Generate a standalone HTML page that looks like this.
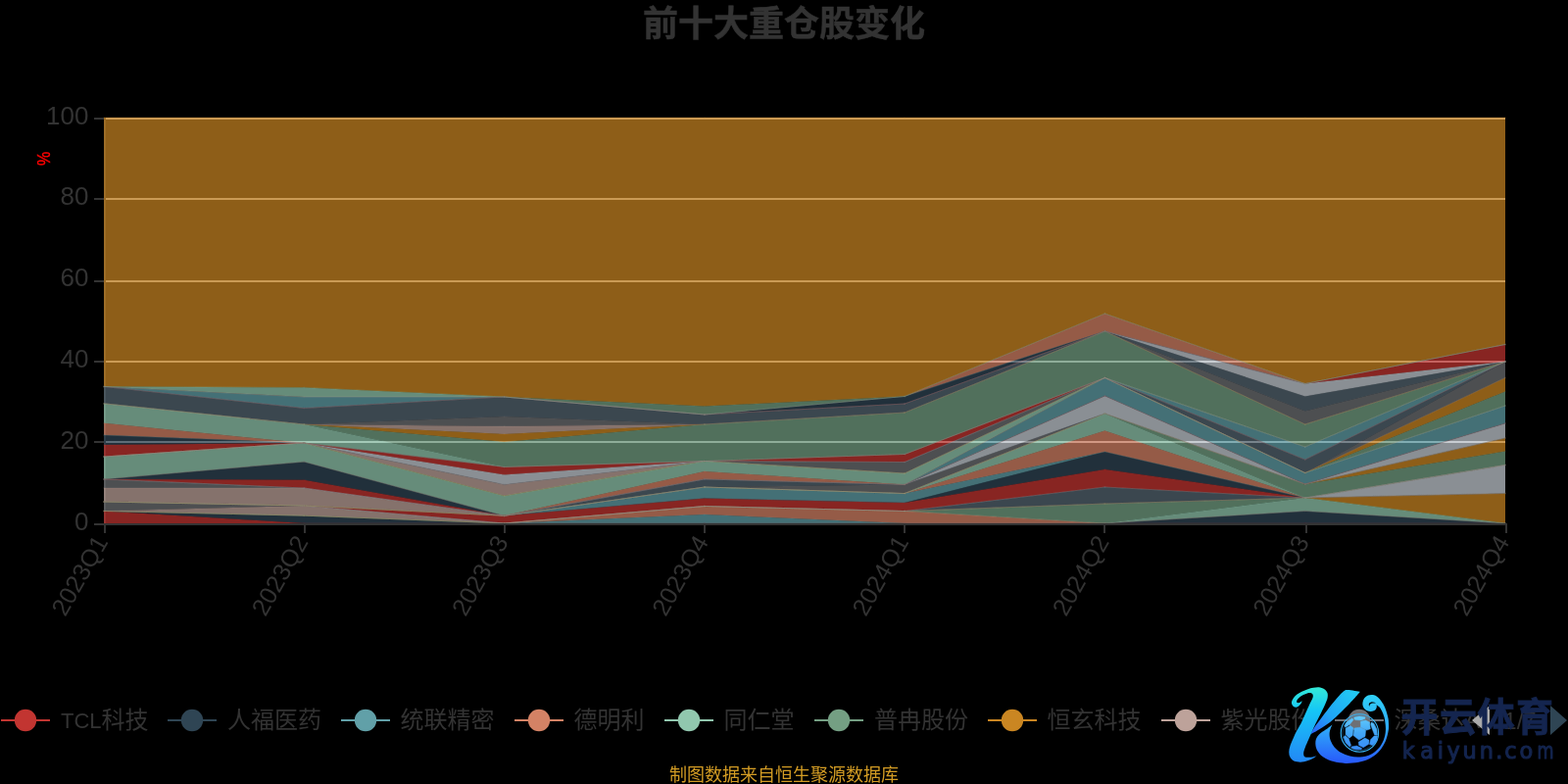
<!DOCTYPE html>
<html lang="zh-CN">
<head>
<meta charset="utf-8">
<title>前十大重仓股变化</title>
<style>
html,body{margin:0;padding:0;background:#000;}
body{width:1600px;height:800px;overflow:hidden;}
svg{display:block;}
</style>
</head>
<body>
<svg width="1600" height="800" viewBox="0 0 1600 800">
<rect width="1600" height="800" fill="#000"/>
<g fill="#ccc">
<rect x="106" y="450" width="1430" height="2"/>
<rect x="106" y="368" width="1430" height="2"/>
<rect x="106" y="286" width="1430" height="2"/>
<rect x="106" y="202" width="1430" height="2"/>
<rect x="106" y="120" width="1430" height="2"/>
</g>
<rect x="106" y="120" width="2" height="416" fill="#333"/>
<g id="areas" fill-opacity=".7">
<path d="M106 521.5L310.29 534L310.29 534L106 534Z" fill="#c23531"/>
<path d="M106 521.5L310.29 526.2L514.57 534L514.57 534L310.29 534L106 521.5Z" fill="#2f4554"/>
<path d="M1127.43 534L1331.71 521.5L1536 534L1536 534L1331.71 534L1127.43 534Z" fill="#2f4554"/>
<path d="M514.57 534L718.86 525L923.14 534L923.14 534L718.86 534L514.57 534Z" fill="#61a0a8"/>
<path d="M514.57 534L718.86 516.5L923.14 521.5L1127.43 534L1127.43 534L923.14 534L718.86 525L514.57 534Z" fill="#d48265"/>
<path d="M1127.43 534L1331.71 508L1536 534L1536 534L1331.71 521.5L1127.43 534Z" fill="#91c7ae"/>
<path d="M923.14 521.5L1127.43 514L1331.71 508L1331.71 508L1127.43 534L923.14 521.5Z" fill="#749f83"/>
<path d="M1331.71 508L1536 503.5L1536 534L1331.71 508Z" fill="#ca8622"/>
<path d="M106 521.5L310.29 516L514.57 534L514.57 534L310.29 526.2L106 521.5Z" fill="#bda29a"/>
<path d="M106 512L310.29 516L310.29 516L106 521.5Z" fill="#6e7074"/>
<path d="M923.14 521.5L1127.43 497L1331.71 508L1331.71 508L1127.43 514L923.14 521.5Z" fill="#546570"/>
<path d="M1331.71 508L1536 474.5L1536 503.5L1331.71 508Z" fill="#c4ccd3"/>
<path d="M310.29 516L514.57 526.3L718.86 508.5L923.14 513L1127.43 479L1331.71 508L1331.71 508L1127.43 497L923.14 521.5L718.86 516.5L514.57 534L310.29 516Z" fill="#c23531"/>
<path d="M923.14 513L1127.43 461L1331.71 508L1331.71 508L1127.43 479L923.14 513Z" fill="#2f4554"/>
<path d="M514.57 526.3L718.86 497L923.14 503.5L1127.43 461L1127.43 461L923.14 513L718.86 508.5L514.57 526.3Z" fill="#61a0a8"/>
<path d="M923.14 503.5L1127.43 439.5L1331.71 508L1331.71 508L1127.43 461L923.14 503.5Z" fill="#d48265"/>
<path d="M923.14 503.5L1127.43 422L1331.71 508L1331.71 508L1127.43 439.5L923.14 503.5Z" fill="#91c7ae"/>
<path d="M1127.43 422L1331.71 494L1536 460.5L1536 474.5L1331.71 508L1127.43 422Z" fill="#749f83"/>
<path d="M1331.71 494L1536 447L1536 460.5L1331.71 494Z" fill="#ca8622"/>
<path d="M106 498L310.29 498L514.57 526.3L514.57 526.3L310.29 516L106 512Z" fill="#bda29a"/>
<path d="M106 489L310.29 498L310.29 498L106 498Z" fill="#6e7074"/>
<path d="M718.86 497L923.14 494.5L1127.43 422L1127.43 422L923.14 503.5L718.86 497Z" fill="#6e7074"/>
<path d="M514.57 526.3L718.86 489L923.14 494.5L923.14 494.5L718.86 497L514.57 526.3Z" fill="#546570"/>
<path d="M923.14 494.5L1127.43 404L1331.71 494L1536 432L1536 447L1331.71 494L1127.43 422L923.14 494.5Z" fill="#c4ccd3"/>
<path d="M106 489L310.29 489.8L514.57 526.3L514.57 526.3L310.29 498L106 489Z" fill="#c23531"/>
<path d="M106 489L310.29 471.2L514.57 526.3L514.57 526.3L310.29 489.8L106 489Z" fill="#2f4554"/>
<path d="M923.14 494.5L1127.43 385.5L1331.71 482.5L1536 414L1536 432L1331.71 494L1127.43 404L923.14 494.5Z" fill="#61a0a8"/>
<path d="M514.57 526.3L718.86 481L923.14 494.5L923.14 494.5L718.86 489L514.57 526.3Z" fill="#d48265"/>
<path d="M106 466L310.29 452L514.57 506L718.86 470.5L923.14 483L1127.43 385.5L1127.43 385.5L923.14 494.5L718.86 481L514.57 526.3L310.29 471.2L106 489Z" fill="#91c7ae"/>
<path d="M1331.71 482.5L1536 399.5L1536 414L1331.71 482.5Z" fill="#749f83"/>
<path d="M1331.71 482.5L1536 385.5L1536 399.5L1331.71 482.5Z" fill="#ca8622"/>
<path d="M310.29 452L514.57 494.5L718.86 470.5L718.86 470.5L514.57 506L310.29 452Z" fill="#bda29a"/>
<path d="M718.86 470.5L923.14 471.5L1127.43 385.5L1127.43 385.5L923.14 483L718.86 470.5Z" fill="#6e7074"/>
<path d="M1331.71 482.5L1536 369L1536 385.5L1331.71 482.5Z" fill="#6e7074"/>
<path d="M1127.43 385.5L1331.71 469L1536 369L1536 369L1331.71 482.5L1127.43 385.5Z" fill="#546570"/>
<path d="M310.29 452L514.57 484.5L718.86 470.5L718.86 470.5L514.57 494.5L310.29 452Z" fill="#c4ccd3"/>
<path d="M106 454L310.29 452L514.57 476.5L718.86 470.5L923.14 463.5L1127.43 385.5L1127.43 385.5L923.14 471.5L718.86 470.5L514.57 484.5L310.29 452L106 466Z" fill="#c23531"/>
<path d="M106 444L310.29 452L310.29 452L106 454Z" fill="#2f4554"/>
<path d="M1127.43 385.5L1331.71 456L1536 369L1536 369L1331.71 469L1127.43 385.5Z" fill="#61a0a8"/>
<path d="M106 431.8L310.29 452L310.29 452L106 444Z" fill="#d48265"/>
<path d="M106 411.8L310.29 433L514.57 476.5L514.57 476.5L310.29 452L106 431.8Z" fill="#91c7ae"/>
<path d="M310.29 433L514.57 451L718.86 433L923.14 421L1127.43 338L1331.71 433L1536 369L1536 369L1331.71 456L1127.43 385.5L923.14 463.5L718.86 470.5L514.57 476.5L310.29 433Z" fill="#749f83"/>
<path d="M310.29 433L514.57 443L718.86 433L718.86 433L514.57 451L310.29 433Z" fill="#ca8622"/>
<path d="M310.29 433L514.57 435L718.86 433L718.86 433L514.57 443L310.29 433Z" fill="#bda29a"/>
<path d="M310.29 433L514.57 425L718.86 433L718.86 433L514.57 435L310.29 433Z" fill="#6e7074"/>
<path d="M1127.43 338L1331.71 419.5L1536 369L1536 369L1331.71 433L1127.43 338Z" fill="#6e7074"/>
<path d="M106 394.5L310.29 416.5L514.57 405L718.86 423L923.14 412L1127.43 338L1331.71 404.5L1536 369L1536 369L1331.71 419.5L1127.43 338L923.14 421L718.86 433L514.57 425L310.29 433L106 411.8Z" fill="#546570"/>
<path d="M1127.43 338L1331.71 391.5L1536 369L1536 369L1331.71 404.5L1127.43 338Z" fill="#c4ccd3"/>
<path d="M1331.71 391.5L1536 351.5L1536 369L1331.71 391.5Z" fill="#c23531"/>
<path d="M718.86 423L923.14 404.5L1127.43 338L1127.43 338L923.14 412L718.86 423Z" fill="#2f4554"/>
<path d="M106 394.5L310.29 405L514.57 405L514.57 405L310.29 416.5L106 394.5Z" fill="#61a0a8"/>
<path d="M923.14 404.5L1127.43 320L1331.71 391.5L1331.71 391.5L1127.43 338L923.14 404.5Z" fill="#d48265"/>
<path d="M106 394.5L310.29 395.5L514.57 405L514.57 405L310.29 405L106 394.5Z" fill="#91c7ae"/>
<path d="M514.57 405L718.86 414.5L923.14 404.5L923.14 404.5L718.86 423L514.57 405Z" fill="#749f83"/>
<path d="M106 120L310.29 120L514.57 120L718.86 120L923.14 120L1127.43 120L1331.71 120L1536 120L1536 351.5L1331.71 391.5L1127.43 320L923.14 404.5L718.86 414.5L514.57 405L310.29 395.5L106 394.5Z" fill="#ca8622"/>
</g>
<g id="lines" fill="none" stroke-width="1" stroke-opacity="0.2">
<path d="M106 521.5L310.29 534L514.57 534L718.86 534L923.14 534L1127.43 534L1331.71 534L1536 534" stroke="#c23531"/>
<path d="M106 521.5L310.29 526.2L514.57 534L718.86 534L923.14 534L1127.43 534L1331.71 521.5L1536 534" stroke="#2f4554"/>
<path d="M106 521.5L310.29 526.2L514.57 534L718.86 525L923.14 534L1127.43 534L1331.71 521.5L1536 534" stroke="#61a0a8"/>
<path d="M106 521.5L310.29 526.2L514.57 534L718.86 516.5L923.14 521.5L1127.43 534L1331.71 521.5L1536 534" stroke="#d48265"/>
<path d="M106 521.5L310.29 526.2L514.57 534L718.86 516.5L923.14 521.5L1127.43 534L1331.71 508L1536 534" stroke="#91c7ae"/>
<path d="M106 521.5L310.29 526.2L514.57 534L718.86 516.5L923.14 521.5L1127.43 514L1331.71 508L1536 534" stroke="#749f83"/>
<path d="M106 521.5L310.29 526.2L514.57 534L718.86 516.5L923.14 521.5L1127.43 514L1331.71 508L1536 503.5" stroke="#ca8622"/>
<path d="M106 521.5L310.29 516L514.57 534L718.86 516.5L923.14 521.5L1127.43 514L1331.71 508L1536 503.5" stroke="#bda29a"/>
<path d="M106 512L310.29 516L514.57 534L718.86 516.5L923.14 521.5L1127.43 514L1331.71 508L1536 503.5" stroke="#6e7074"/>
<path d="M106 512L310.29 516L514.57 534L718.86 516.5L923.14 521.5L1127.43 497L1331.71 508L1536 503.5" stroke="#546570"/>
<path d="M106 512L310.29 516L514.57 534L718.86 516.5L923.14 521.5L1127.43 497L1331.71 508L1536 474.5" stroke="#c4ccd3"/>
<path d="M106 512L310.29 516L514.57 526.3L718.86 508.5L923.14 513L1127.43 479L1331.71 508L1536 474.5" stroke="#c23531"/>
<path d="M106 512L310.29 516L514.57 526.3L718.86 508.5L923.14 513L1127.43 461L1331.71 508L1536 474.5" stroke="#2f4554"/>
<path d="M106 512L310.29 516L514.57 526.3L718.86 497L923.14 503.5L1127.43 461L1331.71 508L1536 474.5" stroke="#61a0a8"/>
<path d="M106 512L310.29 516L514.57 526.3L718.86 497L923.14 503.5L1127.43 439.5L1331.71 508L1536 474.5" stroke="#d48265"/>
<path d="M106 512L310.29 516L514.57 526.3L718.86 497L923.14 503.5L1127.43 422L1331.71 508L1536 474.5" stroke="#91c7ae"/>
<path d="M106 512L310.29 516L514.57 526.3L718.86 497L923.14 503.5L1127.43 422L1331.71 494L1536 460.5" stroke="#749f83"/>
<path d="M106 512L310.29 516L514.57 526.3L718.86 497L923.14 503.5L1127.43 422L1331.71 494L1536 447" stroke="#ca8622"/>
<path d="M106 498L310.29 498L514.57 526.3L718.86 497L923.14 503.5L1127.43 422L1331.71 494L1536 447" stroke="#bda29a"/>
<path d="M106 489L310.29 498L514.57 526.3L718.86 497L923.14 494.5L1127.43 422L1331.71 494L1536 447" stroke="#6e7074"/>
<path d="M106 489L310.29 498L514.57 526.3L718.86 489L923.14 494.5L1127.43 422L1331.71 494L1536 447" stroke="#546570"/>
<path d="M106 489L310.29 498L514.57 526.3L718.86 489L923.14 494.5L1127.43 404L1331.71 494L1536 432" stroke="#c4ccd3"/>
<path d="M106 489L310.29 489.8L514.57 526.3L718.86 489L923.14 494.5L1127.43 404L1331.71 494L1536 432" stroke="#c23531"/>
<path d="M106 489L310.29 471.2L514.57 526.3L718.86 489L923.14 494.5L1127.43 404L1331.71 494L1536 432" stroke="#2f4554"/>
<path d="M106 489L310.29 471.2L514.57 526.3L718.86 489L923.14 494.5L1127.43 385.5L1331.71 482.5L1536 414" stroke="#61a0a8"/>
<path d="M106 489L310.29 471.2L514.57 526.3L718.86 481L923.14 494.5L1127.43 385.5L1331.71 482.5L1536 414" stroke="#d48265"/>
<path d="M106 466L310.29 452L514.57 506L718.86 470.5L923.14 483L1127.43 385.5L1331.71 482.5L1536 414" stroke="#91c7ae"/>
<path d="M106 466L310.29 452L514.57 506L718.86 470.5L923.14 483L1127.43 385.5L1331.71 482.5L1536 399.5" stroke="#749f83"/>
<path d="M106 466L310.29 452L514.57 506L718.86 470.5L923.14 483L1127.43 385.5L1331.71 482.5L1536 385.5" stroke="#ca8622"/>
<path d="M106 466L310.29 452L514.57 494.5L718.86 470.5L923.14 483L1127.43 385.5L1331.71 482.5L1536 385.5" stroke="#bda29a"/>
<path d="M106 466L310.29 452L514.57 494.5L718.86 470.5L923.14 471.5L1127.43 385.5L1331.71 482.5L1536 369" stroke="#6e7074"/>
<path d="M106 466L310.29 452L514.57 494.5L718.86 470.5L923.14 471.5L1127.43 385.5L1331.71 469L1536 369" stroke="#546570"/>
<path d="M106 466L310.29 452L514.57 484.5L718.86 470.5L923.14 471.5L1127.43 385.5L1331.71 469L1536 369" stroke="#c4ccd3"/>
<path d="M106 454L310.29 452L514.57 476.5L718.86 470.5L923.14 463.5L1127.43 385.5L1331.71 469L1536 369" stroke="#c23531"/>
<path d="M106 444L310.29 452L514.57 476.5L718.86 470.5L923.14 463.5L1127.43 385.5L1331.71 469L1536 369" stroke="#2f4554"/>
<path d="M106 444L310.29 452L514.57 476.5L718.86 470.5L923.14 463.5L1127.43 385.5L1331.71 456L1536 369" stroke="#61a0a8"/>
<path d="M106 431.8L310.29 452L514.57 476.5L718.86 470.5L923.14 463.5L1127.43 385.5L1331.71 456L1536 369" stroke="#d48265"/>
<path d="M106 411.8L310.29 433L514.57 476.5L718.86 470.5L923.14 463.5L1127.43 385.5L1331.71 456L1536 369" stroke="#91c7ae"/>
<path d="M106 411.8L310.29 433L514.57 451L718.86 433L923.14 421L1127.43 338L1331.71 433L1536 369" stroke="#749f83"/>
<path d="M106 411.8L310.29 433L514.57 443L718.86 433L923.14 421L1127.43 338L1331.71 433L1536 369" stroke="#ca8622"/>
<path d="M106 411.8L310.29 433L514.57 435L718.86 433L923.14 421L1127.43 338L1331.71 433L1536 369" stroke="#bda29a"/>
<path d="M106 411.8L310.29 433L514.57 425L718.86 433L923.14 421L1127.43 338L1331.71 419.5L1536 369" stroke="#6e7074"/>
<path d="M106 394.5L310.29 416.5L514.57 405L718.86 423L923.14 412L1127.43 338L1331.71 404.5L1536 369" stroke="#546570"/>
<path d="M106 394.5L310.29 416.5L514.57 405L718.86 423L923.14 412L1127.43 338L1331.71 391.5L1536 369" stroke="#c4ccd3"/>
<path d="M106 394.5L310.29 416.5L514.57 405L718.86 423L923.14 412L1127.43 338L1331.71 391.5L1536 351.5" stroke="#c23531"/>
<path d="M106 394.5L310.29 416.5L514.57 405L718.86 423L923.14 404.5L1127.43 338L1331.71 391.5L1536 351.5" stroke="#2f4554"/>
<path d="M106 394.5L310.29 405L514.57 405L718.86 423L923.14 404.5L1127.43 338L1331.71 391.5L1536 351.5" stroke="#61a0a8"/>
<path d="M106 394.5L310.29 405L514.57 405L718.86 423L923.14 404.5L1127.43 320L1331.71 391.5L1536 351.5" stroke="#d48265"/>
<path d="M106 394.5L310.29 395.5L514.57 405L718.86 423L923.14 404.5L1127.43 320L1331.71 391.5L1536 351.5" stroke="#91c7ae"/>
<path d="M106 394.5L310.29 395.5L514.57 405L718.86 414.5L923.14 404.5L1127.43 320L1331.71 391.5L1536 351.5" stroke="#749f83"/>
<path d="M106 120L310.29 120L514.57 120L718.86 120L923.14 120L1127.43 120L1331.71 120L1536 120" stroke="#ca8622"/>
</g>
<g id="dots" fill-opacity="0.08">
<path d="M106 521.5h.01M310.29 534h.01M514.57 534h.01M718.86 534h.01M923.14 534h.01M1127.43 534h.01M1331.71 534h.01M1536 534h.01" fill="none" stroke="#c23531" stroke-opacity="0.08" stroke-width="2.2" stroke-linecap="round"/>
<path d="M106 521.5h.01M310.29 526.2h.01M514.57 534h.01M718.86 534h.01M923.14 534h.01M1127.43 534h.01M1331.71 521.5h.01M1536 534h.01" fill="none" stroke="#2f4554" stroke-opacity="0.08" stroke-width="2.2" stroke-linecap="round"/>
<path d="M106 521.5h.01M310.29 526.2h.01M514.57 534h.01M718.86 525h.01M923.14 534h.01M1127.43 534h.01M1331.71 521.5h.01M1536 534h.01" fill="none" stroke="#61a0a8" stroke-opacity="0.08" stroke-width="2.2" stroke-linecap="round"/>
<path d="M106 521.5h.01M310.29 526.2h.01M514.57 534h.01M718.86 516.5h.01M923.14 521.5h.01M1127.43 534h.01M1331.71 521.5h.01M1536 534h.01" fill="none" stroke="#d48265" stroke-opacity="0.08" stroke-width="2.2" stroke-linecap="round"/>
<path d="M106 521.5h.01M310.29 526.2h.01M514.57 534h.01M718.86 516.5h.01M923.14 521.5h.01M1127.43 534h.01M1331.71 508h.01M1536 534h.01" fill="none" stroke="#91c7ae" stroke-opacity="0.08" stroke-width="2.2" stroke-linecap="round"/>
<path d="M106 521.5h.01M310.29 526.2h.01M514.57 534h.01M718.86 516.5h.01M923.14 521.5h.01M1127.43 514h.01M1331.71 508h.01M1536 534h.01" fill="none" stroke="#749f83" stroke-opacity="0.08" stroke-width="2.2" stroke-linecap="round"/>
<path d="M106 521.5h.01M310.29 526.2h.01M514.57 534h.01M718.86 516.5h.01M923.14 521.5h.01M1127.43 514h.01M1331.71 508h.01M1536 503.5h.01" fill="none" stroke="#ca8622" stroke-opacity="0.08" stroke-width="2.2" stroke-linecap="round"/>
<path d="M106 521.5h.01M310.29 516h.01M514.57 534h.01M718.86 516.5h.01M923.14 521.5h.01M1127.43 514h.01M1331.71 508h.01M1536 503.5h.01" fill="none" stroke="#bda29a" stroke-opacity="0.08" stroke-width="2.2" stroke-linecap="round"/>
<path d="M106 512h.01M310.29 516h.01M514.57 534h.01M718.86 516.5h.01M923.14 521.5h.01M1127.43 514h.01M1331.71 508h.01M1536 503.5h.01" fill="none" stroke="#6e7074" stroke-opacity="0.08" stroke-width="2.2" stroke-linecap="round"/>
<path d="M106 512h.01M310.29 516h.01M514.57 534h.01M718.86 516.5h.01M923.14 521.5h.01M1127.43 497h.01M1331.71 508h.01M1536 503.5h.01" fill="none" stroke="#546570" stroke-opacity="0.08" stroke-width="2.2" stroke-linecap="round"/>
<path d="M106 512h.01M310.29 516h.01M514.57 534h.01M718.86 516.5h.01M923.14 521.5h.01M1127.43 497h.01M1331.71 508h.01M1536 474.5h.01" fill="none" stroke="#c4ccd3" stroke-opacity="0.08" stroke-width="2.2" stroke-linecap="round"/>
<path d="M106 512h.01M310.29 516h.01M514.57 526.3h.01M718.86 508.5h.01M923.14 513h.01M1127.43 479h.01M1331.71 508h.01M1536 474.5h.01" fill="none" stroke="#c23531" stroke-opacity="0.08" stroke-width="2.2" stroke-linecap="round"/>
<path d="M106 512h.01M310.29 516h.01M514.57 526.3h.01M718.86 508.5h.01M923.14 513h.01M1127.43 461h.01M1331.71 508h.01M1536 474.5h.01" fill="none" stroke="#2f4554" stroke-opacity="0.08" stroke-width="2.2" stroke-linecap="round"/>
<path d="M106 512h.01M310.29 516h.01M514.57 526.3h.01M718.86 497h.01M923.14 503.5h.01M1127.43 461h.01M1331.71 508h.01M1536 474.5h.01" fill="none" stroke="#61a0a8" stroke-opacity="0.08" stroke-width="2.2" stroke-linecap="round"/>
<path d="M106 512h.01M310.29 516h.01M514.57 526.3h.01M718.86 497h.01M923.14 503.5h.01M1127.43 439.5h.01M1331.71 508h.01M1536 474.5h.01" fill="none" stroke="#d48265" stroke-opacity="0.08" stroke-width="2.2" stroke-linecap="round"/>
<path d="M106 512h.01M310.29 516h.01M514.57 526.3h.01M718.86 497h.01M923.14 503.5h.01M1127.43 422h.01M1331.71 508h.01M1536 474.5h.01" fill="none" stroke="#91c7ae" stroke-opacity="0.08" stroke-width="2.2" stroke-linecap="round"/>
<path d="M106 512h.01M310.29 516h.01M514.57 526.3h.01M718.86 497h.01M923.14 503.5h.01M1127.43 422h.01M1331.71 494h.01M1536 460.5h.01" fill="none" stroke="#749f83" stroke-opacity="0.08" stroke-width="2.2" stroke-linecap="round"/>
<path d="M106 512h.01M310.29 516h.01M514.57 526.3h.01M718.86 497h.01M923.14 503.5h.01M1127.43 422h.01M1331.71 494h.01M1536 447h.01" fill="none" stroke="#ca8622" stroke-opacity="0.08" stroke-width="2.2" stroke-linecap="round"/>
<path d="M106 498h.01M310.29 498h.01M514.57 526.3h.01M718.86 497h.01M923.14 503.5h.01M1127.43 422h.01M1331.71 494h.01M1536 447h.01" fill="none" stroke="#bda29a" stroke-opacity="0.08" stroke-width="2.2" stroke-linecap="round"/>
<path d="M106 489h.01M310.29 498h.01M514.57 526.3h.01M718.86 497h.01M923.14 494.5h.01M1127.43 422h.01M1331.71 494h.01M1536 447h.01" fill="none" stroke="#6e7074" stroke-opacity="0.08" stroke-width="2.2" stroke-linecap="round"/>
<path d="M106 489h.01M310.29 498h.01M514.57 526.3h.01M718.86 489h.01M923.14 494.5h.01M1127.43 422h.01M1331.71 494h.01M1536 447h.01" fill="none" stroke="#546570" stroke-opacity="0.08" stroke-width="2.2" stroke-linecap="round"/>
<path d="M106 489h.01M310.29 498h.01M514.57 526.3h.01M718.86 489h.01M923.14 494.5h.01M1127.43 404h.01M1331.71 494h.01M1536 432h.01" fill="none" stroke="#c4ccd3" stroke-opacity="0.08" stroke-width="2.2" stroke-linecap="round"/>
<path d="M106 489h.01M310.29 489.8h.01M514.57 526.3h.01M718.86 489h.01M923.14 494.5h.01M1127.43 404h.01M1331.71 494h.01M1536 432h.01" fill="none" stroke="#c23531" stroke-opacity="0.08" stroke-width="2.2" stroke-linecap="round"/>
<path d="M106 489h.01M310.29 471.2h.01M514.57 526.3h.01M718.86 489h.01M923.14 494.5h.01M1127.43 404h.01M1331.71 494h.01M1536 432h.01" fill="none" stroke="#2f4554" stroke-opacity="0.08" stroke-width="2.2" stroke-linecap="round"/>
<path d="M106 489h.01M310.29 471.2h.01M514.57 526.3h.01M718.86 489h.01M923.14 494.5h.01M1127.43 385.5h.01M1331.71 482.5h.01M1536 414h.01" fill="none" stroke="#61a0a8" stroke-opacity="0.08" stroke-width="2.2" stroke-linecap="round"/>
<path d="M106 489h.01M310.29 471.2h.01M514.57 526.3h.01M718.86 481h.01M923.14 494.5h.01M1127.43 385.5h.01M1331.71 482.5h.01M1536 414h.01" fill="none" stroke="#d48265" stroke-opacity="0.08" stroke-width="2.2" stroke-linecap="round"/>
<path d="M106 466h.01M310.29 452h.01M514.57 506h.01M718.86 470.5h.01M923.14 483h.01M1127.43 385.5h.01M1331.71 482.5h.01M1536 414h.01" fill="none" stroke="#91c7ae" stroke-opacity="0.08" stroke-width="2.2" stroke-linecap="round"/>
<path d="M106 466h.01M310.29 452h.01M514.57 506h.01M718.86 470.5h.01M923.14 483h.01M1127.43 385.5h.01M1331.71 482.5h.01M1536 399.5h.01" fill="none" stroke="#749f83" stroke-opacity="0.08" stroke-width="2.2" stroke-linecap="round"/>
<path d="M106 466h.01M310.29 452h.01M514.57 506h.01M718.86 470.5h.01M923.14 483h.01M1127.43 385.5h.01M1331.71 482.5h.01M1536 385.5h.01" fill="none" stroke="#ca8622" stroke-opacity="0.08" stroke-width="2.2" stroke-linecap="round"/>
<path d="M106 466h.01M310.29 452h.01M514.57 494.5h.01M718.86 470.5h.01M923.14 483h.01M1127.43 385.5h.01M1331.71 482.5h.01M1536 385.5h.01" fill="none" stroke="#bda29a" stroke-opacity="0.08" stroke-width="2.2" stroke-linecap="round"/>
<path d="M106 466h.01M310.29 452h.01M514.57 494.5h.01M718.86 470.5h.01M923.14 471.5h.01M1127.43 385.5h.01M1331.71 482.5h.01M1536 369h.01" fill="none" stroke="#6e7074" stroke-opacity="0.08" stroke-width="2.2" stroke-linecap="round"/>
<path d="M106 466h.01M310.29 452h.01M514.57 494.5h.01M718.86 470.5h.01M923.14 471.5h.01M1127.43 385.5h.01M1331.71 469h.01M1536 369h.01" fill="none" stroke="#546570" stroke-opacity="0.08" stroke-width="2.2" stroke-linecap="round"/>
<path d="M106 466h.01M310.29 452h.01M514.57 484.5h.01M718.86 470.5h.01M923.14 471.5h.01M1127.43 385.5h.01M1331.71 469h.01M1536 369h.01" fill="none" stroke="#c4ccd3" stroke-opacity="0.08" stroke-width="2.2" stroke-linecap="round"/>
<path d="M106 454h.01M310.29 452h.01M514.57 476.5h.01M718.86 470.5h.01M923.14 463.5h.01M1127.43 385.5h.01M1331.71 469h.01M1536 369h.01" fill="none" stroke="#c23531" stroke-opacity="0.08" stroke-width="2.2" stroke-linecap="round"/>
<path d="M106 444h.01M310.29 452h.01M514.57 476.5h.01M718.86 470.5h.01M923.14 463.5h.01M1127.43 385.5h.01M1331.71 469h.01M1536 369h.01" fill="none" stroke="#2f4554" stroke-opacity="0.08" stroke-width="2.2" stroke-linecap="round"/>
<path d="M106 444h.01M310.29 452h.01M514.57 476.5h.01M718.86 470.5h.01M923.14 463.5h.01M1127.43 385.5h.01M1331.71 456h.01M1536 369h.01" fill="none" stroke="#61a0a8" stroke-opacity="0.08" stroke-width="2.2" stroke-linecap="round"/>
<path d="M106 431.8h.01M310.29 452h.01M514.57 476.5h.01M718.86 470.5h.01M923.14 463.5h.01M1127.43 385.5h.01M1331.71 456h.01M1536 369h.01" fill="none" stroke="#d48265" stroke-opacity="0.08" stroke-width="2.2" stroke-linecap="round"/>
<path d="M106 411.8h.01M310.29 433h.01M514.57 476.5h.01M718.86 470.5h.01M923.14 463.5h.01M1127.43 385.5h.01M1331.71 456h.01M1536 369h.01" fill="none" stroke="#91c7ae" stroke-opacity="0.08" stroke-width="2.2" stroke-linecap="round"/>
<path d="M106 411.8h.01M310.29 433h.01M514.57 451h.01M718.86 433h.01M923.14 421h.01M1127.43 338h.01M1331.71 433h.01M1536 369h.01" fill="none" stroke="#749f83" stroke-opacity="0.08" stroke-width="2.2" stroke-linecap="round"/>
<path d="M106 411.8h.01M310.29 433h.01M514.57 443h.01M718.86 433h.01M923.14 421h.01M1127.43 338h.01M1331.71 433h.01M1536 369h.01" fill="none" stroke="#ca8622" stroke-opacity="0.08" stroke-width="2.2" stroke-linecap="round"/>
<path d="M106 411.8h.01M310.29 433h.01M514.57 435h.01M718.86 433h.01M923.14 421h.01M1127.43 338h.01M1331.71 433h.01M1536 369h.01" fill="none" stroke="#bda29a" stroke-opacity="0.08" stroke-width="2.2" stroke-linecap="round"/>
<path d="M106 411.8h.01M310.29 433h.01M514.57 425h.01M718.86 433h.01M923.14 421h.01M1127.43 338h.01M1331.71 419.5h.01M1536 369h.01" fill="none" stroke="#6e7074" stroke-opacity="0.08" stroke-width="2.2" stroke-linecap="round"/>
<path d="M106 394.5h.01M310.29 416.5h.01M514.57 405h.01M718.86 423h.01M923.14 412h.01M1127.43 338h.01M1331.71 404.5h.01M1536 369h.01" fill="none" stroke="#546570" stroke-opacity="0.08" stroke-width="2.2" stroke-linecap="round"/>
<path d="M106 394.5h.01M310.29 416.5h.01M514.57 405h.01M718.86 423h.01M923.14 412h.01M1127.43 338h.01M1331.71 391.5h.01M1536 369h.01" fill="none" stroke="#c4ccd3" stroke-opacity="0.08" stroke-width="2.2" stroke-linecap="round"/>
<path d="M106 394.5h.01M310.29 416.5h.01M514.57 405h.01M718.86 423h.01M923.14 412h.01M1127.43 338h.01M1331.71 391.5h.01M1536 351.5h.01" fill="none" stroke="#c23531" stroke-opacity="0.08" stroke-width="2.2" stroke-linecap="round"/>
<path d="M106 394.5h.01M310.29 416.5h.01M514.57 405h.01M718.86 423h.01M923.14 404.5h.01M1127.43 338h.01M1331.71 391.5h.01M1536 351.5h.01" fill="none" stroke="#2f4554" stroke-opacity="0.08" stroke-width="2.2" stroke-linecap="round"/>
<path d="M106 394.5h.01M310.29 405h.01M514.57 405h.01M718.86 423h.01M923.14 404.5h.01M1127.43 338h.01M1331.71 391.5h.01M1536 351.5h.01" fill="none" stroke="#61a0a8" stroke-opacity="0.08" stroke-width="2.2" stroke-linecap="round"/>
<path d="M106 394.5h.01M310.29 405h.01M514.57 405h.01M718.86 423h.01M923.14 404.5h.01M1127.43 320h.01M1331.71 391.5h.01M1536 351.5h.01" fill="none" stroke="#d48265" stroke-opacity="0.08" stroke-width="2.2" stroke-linecap="round"/>
<path d="M106 394.5h.01M310.29 395.5h.01M514.57 405h.01M718.86 423h.01M923.14 404.5h.01M1127.43 320h.01M1331.71 391.5h.01M1536 351.5h.01" fill="none" stroke="#91c7ae" stroke-opacity="0.08" stroke-width="2.2" stroke-linecap="round"/>
<path d="M106 394.5h.01M310.29 395.5h.01M514.57 405h.01M718.86 414.5h.01M923.14 404.5h.01M1127.43 320h.01M1331.71 391.5h.01M1536 351.5h.01" fill="none" stroke="#749f83" stroke-opacity="0.08" stroke-width="2.2" stroke-linecap="round"/>
<path d="M106 120h.01M310.29 120h.01M514.57 120h.01M718.86 120h.01M923.14 120h.01M1127.43 120h.01M1331.71 120h.01M1536 120h.01" fill="none" stroke="#ca8622" stroke-opacity="0.08" stroke-width="2.2" stroke-linecap="round"/>
</g>
<g fill="#333">
<rect x="106" y="534" width="1432" height="2"/>
<rect x="106" y="534" width="2" height="10"/>
<rect x="310" y="534" width="2" height="10"/>
<rect x="514" y="534" width="2" height="10"/>
<rect x="718" y="534" width="2" height="10"/>
<rect x="922" y="534" width="2" height="10"/>
<rect x="1126" y="534" width="2" height="10"/>
<rect x="1332" y="534" width="2" height="10"/>
<rect x="1536" y="534" width="2" height="10"/>
<rect x="96" y="534" width="10" height="2"/>
<rect x="96" y="450" width="10" height="2"/>
<rect x="96" y="368" width="10" height="2"/>
<rect x="96" y="286" width="10" height="2"/>
<rect x="96" y="202" width="10" height="2"/>
<rect x="96" y="120" width="10" height="2"/>
</g>
<g font-family="'Liberation Sans','Noto Sans CJK SC',sans-serif" font-size="25" fill="#333">
<text x="90.5" y="540.5" text-anchor="end" font-size="26">0</text>
<text x="90.5" y="457.7" text-anchor="end" font-size="26">20</text>
<text x="90.5" y="374.9" text-anchor="end" font-size="26">40</text>
<text x="90.5" y="292.1" text-anchor="end" font-size="26">60</text>
<text x="90.5" y="209.3" text-anchor="end" font-size="26">80</text>
<text x="90.5" y="126.5" text-anchor="end" font-size="26">100</text>
<text transform="translate(104 549) rotate(-60)" text-anchor="end" y="8">2023Q1</text>
<text transform="translate(308.29 549) rotate(-60)" text-anchor="end" y="8">2023Q2</text>
<text transform="translate(512.57 549) rotate(-60)" text-anchor="end" y="8">2023Q3</text>
<text transform="translate(716.86 549) rotate(-60)" text-anchor="end" y="8">2023Q4</text>
<text transform="translate(921.14 549) rotate(-60)" text-anchor="end" y="8">2024Q1</text>
<text transform="translate(1125.43 549) rotate(-60)" text-anchor="end" y="8">2024Q2</text>
<text transform="translate(1329.71 549) rotate(-60)" text-anchor="end" y="8">2024Q3</text>
<text transform="translate(1534 549) rotate(-60)" text-anchor="end" y="8">2024Q4</text>
</g>
<text transform="translate(44 162) rotate(-90) scale(1 1.2)" text-anchor="middle" y="5.7" font-family="'Liberation Sans',sans-serif" font-size="16" fill="#f00" stroke="#f00" stroke-width=".35">%</text>
<text x="800" y="24.4" text-anchor="middle" dominant-baseline="central" stroke="#333" stroke-width=".5" font-family="'Liberation Sans','Noto Sans CJK SC',sans-serif" font-weight="bold" font-size="36" fill="#333">前十大重仓股变化</text>
<g font-family="'Liberation Sans','Noto Sans CJK SC',sans-serif" font-size="24" fill="#333">
<rect x="1" y="734" width="50" height="2" fill="#c23531"/>
<circle cx="26" cy="735" r="11.2" fill="#c23531"/>
<text x="62" y="743"><tspan font-size="22">TCL</tspan>科技</text>
<rect x="171" y="734" width="50" height="2" fill="#2f4554"/>
<circle cx="196" cy="735" r="11.2" fill="#2f4554"/>
<text x="232" y="743">人福医药</text>
<rect x="348" y="734" width="50" height="2" fill="#61a0a8"/>
<circle cx="373" cy="735" r="11.2" fill="#61a0a8"/>
<text x="408.5" y="743">统联精密</text>
<rect x="525" y="734" width="50" height="2" fill="#d48265"/>
<circle cx="550" cy="735" r="11.2" fill="#d48265"/>
<text x="585.5" y="743">德明利</text>
<rect x="678" y="734" width="50" height="2" fill="#91c7ae"/>
<circle cx="703" cy="735" r="11.2" fill="#91c7ae"/>
<text x="738.5" y="743">同仁堂</text>
<rect x="831" y="734" width="50" height="2" fill="#749f83"/>
<circle cx="856" cy="735" r="11.2" fill="#749f83"/>
<text x="892" y="743">普冉股份</text>
<rect x="1008" y="734" width="50" height="2" fill="#ca8622"/>
<circle cx="1033" cy="735" r="11.2" fill="#ca8622"/>
<text x="1068.5" y="743">恒玄科技</text>
<rect x="1185" y="734" width="50" height="2" fill="#bda29a"/>
<circle cx="1210" cy="735" r="11.2" fill="#bda29a"/>
<text x="1245.5" y="743">紫光股份</text>
<rect x="1362" y="734" width="50" height="2" fill="#6e7074"/>
<circle cx="1387" cy="735" r="11.2" fill="#6e7074"/>
<text x="1422.5" y="743">深桑达A</text>
</g>
<path d="M1502 735L1520 720V750Z" fill="#aaa"/>
<text x="1551" y="735" text-anchor="middle" dominant-baseline="central" font-family="'Liberation Sans',sans-serif" font-size="24" fill="#333">1/7</text>
<path d="M1599 735L1582 720V750Z" fill="#2f4554"/>
<text x="800" y="790.6" text-anchor="middle" dominant-baseline="central" font-family="'Liberation Sans','Noto Sans CJK SC',sans-serif" font-size="18" fill="#d39c24">制图数据来自恒生聚源数据库</text>
<defs>
<linearGradient id="wg1" gradientUnits="userSpaceOnUse" x1="0" y1="700" x2="0" y2="779"><stop offset="0" stop-color="#35ecd6"/><stop offset=".32" stop-color="#15c6f6"/><stop offset=".7" stop-color="#1ea2f6"/><stop offset="1" stop-color="#2386f6"/></linearGradient>
<linearGradient id="wg2" gradientUnits="userSpaceOnUse" x1="1385" y1="703" x2="1340" y2="750"><stop offset="0" stop-color="#22cdf2"/><stop offset=".6" stop-color="#1fa6f6"/><stop offset="1" stop-color="#2c62fa"/></linearGradient>
<linearGradient id="wg3" gradientUnits="userSpaceOnUse" x1="0" y1="708" x2="0" y2="779"><stop offset="0" stop-color="#2fd2f6"/><stop offset=".5" stop-color="#2fa8f8"/><stop offset=".8" stop-color="#2a78fa"/><stop offset="1" stop-color="#2858fc"/></linearGradient>
<linearGradient id="wg4" gradientUnits="userSpaceOnUse" x1="0" y1="729" x2="0" y2="767"><stop offset="0" stop-color="#66d0fc"/><stop offset=".5" stop-color="#42a6f6"/><stop offset="1" stop-color="#3688f8"/></linearGradient>
</defs>
<g id="watermark">
<path d="M1359.5 739.4C1359.5 739.4 1355.0 742.9 1352.7 744.5C1350.5 746.1 1347.9 747.5 1346.2 749.2C1344.6 750.9 1343.4 752.6 1342.8 754.6C1342.2 756.6 1342.2 759.3 1342.6 761.4C1343.0 763.5 1343.7 765.3 1345.1 767.2C1346.4 769.1 1348.1 771.2 1350.7 772.8C1353.3 774.5 1356.9 776.1 1360.6 777.1C1364.3 778.1 1368.7 778.8 1373.0 778.9C1377.3 779.0 1382.4 778.6 1386.5 777.8C1390.6 777.0 1394.4 775.7 1397.7 774.0C1401.1 772.2 1404.1 770.0 1406.7 767.2C1409.4 764.4 1411.8 760.9 1413.5 757.1C1415.2 753.3 1416.3 748.2 1416.9 744.5C1417.4 740.8 1416.9 737.4 1416.8 735.0C1416.6 732.6 1416.2 731.8 1415.8 730.0C1415.3 728.2 1414.7 725.9 1414.0 724.0C1413.3 722.1 1412.5 720.2 1411.5 718.5C1410.5 716.8 1409.2 714.9 1408.0 713.5C1406.8 712.1 1405.3 710.8 1404.0 710.0C1402.7 709.2 1401.3 709.0 1400.0 708.9C1398.7 708.8 1397.2 709.0 1396.0 709.5C1394.8 710.0 1393.6 710.8 1392.8 711.8C1391.9 712.8 1391.1 714.2 1390.8 715.5C1390.4 716.8 1390.3 718.2 1390.5 719.5C1390.7 720.8 1391.2 722.0 1392.0 723.0C1392.8 724.0 1393.9 724.8 1395.0 725.2C1396.1 725.8 1397.3 726.0 1398.5 726.0C1399.7 726.0 1401.0 725.7 1402.0 725.2C1403.0 724.8 1403.8 724.0 1404.2 723.2C1404.7 722.5 1404.8 721.7 1404.8 721.0C1404.9 720.3 1404.6 719.2 1404.6 719.2C1404.6 719.2 1407.0 720.8 1408.0 722.0C1409.0 723.2 1409.8 725.0 1410.5 726.5C1411.2 728.0 1411.8 729.5 1412.2 731.0C1412.7 732.5 1413.0 733.1 1413.2 735.5C1413.5 737.9 1414.2 742.3 1413.9 745.6C1413.7 748.9 1413.0 752.1 1411.8 755.2C1410.6 758.2 1408.7 761.4 1406.5 763.8C1404.3 766.3 1401.6 768.5 1398.5 769.9C1395.4 771.3 1391.4 772.1 1387.8 772.4C1384.3 772.7 1380.7 772.2 1377.5 771.5C1374.3 770.8 1371.1 769.6 1368.5 768.1C1365.9 766.6 1363.5 764.6 1361.7 762.5C1360.0 760.4 1358.7 758.0 1357.8 755.7C1356.9 753.5 1356.6 751.1 1356.6 749.0C1356.6 746.9 1357.2 745.0 1357.7 743.4C1358.2 741.8 1359.5 739.4 1359.5 739.4ZM1397.2 720.8C1397.1 720.7 1396.7 719.6 1396.8 719.0C1396.8 718.4 1397.0 717.7 1397.5 717.2C1398.0 716.8 1398.9 716.3 1399.8 716.2C1400.6 716.2 1401.8 716.5 1402.5 716.8C1403.2 717.0 1404.2 718.0 1404.2 718.0C1404.2 718.0 1403.1 717.7 1402.5 717.6C1401.9 717.5 1401.1 717.4 1400.5 717.5C1399.9 717.6 1399.2 717.8 1398.8 718.1C1398.3 718.4 1397.8 719.1 1397.6 719.5C1397.3 719.9 1397.4 720.8 1397.2 720.8Z" fill="url(#wg3)" fill-rule="evenodd"/>
<path d="M1337.6 749.0C1337.6 749.0 1338.5 746.2 1340.4 743.4C1342.2 740.6 1345.6 736.3 1348.8 732.1C1352.0 727.9 1356.3 722.0 1359.5 718.1C1362.7 714.1 1365.9 710.5 1367.9 708.3C1370.0 706.1 1370.4 705.6 1371.6 704.9C1372.9 704.2 1372.6 703.9 1375.2 704.0C1377.9 704.1 1387.6 705.7 1387.6 705.7C1387.6 705.7 1388.2 705.6 1386.5 707.6C1384.8 709.6 1380.9 714.0 1377.5 717.5C1374.1 721.0 1370.0 725.2 1366.2 728.7C1362.5 732.3 1358.7 735.8 1355.0 738.6C1351.2 741.5 1346.7 744.1 1343.7 745.8C1340.8 747.6 1337.6 749.0 1337.6 749.0Z" fill="url(#wg2)"/>
<path d="M1345.7 701.2C1347.6 701.5 1349.9 702.2 1351.4 703.2C1352.8 704.2 1353.9 705.7 1354.5 707.1C1355.0 708.5 1354.9 710.1 1354.7 711.6C1354.6 713.1 1354.0 714.4 1353.3 716.1C1352.7 717.8 1351.7 719.9 1350.8 721.7C1349.9 723.6 1348.9 725.5 1348.0 727.4C1347.1 729.2 1346.1 731.1 1345.2 733.0C1344.2 734.9 1343.4 736.5 1342.4 738.6C1341.4 740.7 1340.4 743.0 1339.2 745.6C1338.1 748.3 1336.5 751.8 1335.3 754.6C1334.1 757.4 1332.8 760.2 1331.9 762.5C1331.1 764.7 1330.4 766.5 1330.2 768.1C1330.1 769.7 1330.4 771.2 1331.1 771.9C1331.9 772.7 1333.4 772.8 1334.7 772.8C1336.1 772.9 1338.0 772.7 1339.5 772.4C1341.0 772.1 1343.7 771.3 1343.7 771.3C1343.7 771.3 1341.1 773.2 1339.5 774.1C1337.9 774.9 1336.3 775.7 1334.2 776.3C1332.1 776.9 1329.2 777.6 1326.9 777.7C1324.6 777.7 1322.1 777.4 1320.3 776.6C1318.6 775.7 1317.3 774.2 1316.4 772.6C1315.6 771.0 1315.2 769.1 1315.3 767.0C1315.3 764.9 1316.0 762.6 1316.7 760.2C1317.5 757.9 1318.7 755.4 1319.8 752.9C1320.9 750.5 1322.1 747.9 1323.3 745.6C1324.5 743.3 1326.0 740.8 1326.9 739.2C1327.7 737.7 1327.6 737.9 1328.3 736.4C1329.0 734.9 1330.2 732.2 1331.1 730.2C1332.1 728.1 1333.0 726.1 1333.9 724.0C1334.9 721.9 1335.9 719.6 1336.7 717.8C1337.6 716.0 1338.5 714.5 1339.0 713.3C1339.5 712.1 1339.8 711.3 1339.8 710.5C1339.9 709.7 1339.7 708.8 1339.3 708.2C1338.9 707.7 1338.2 707.3 1337.3 707.1C1336.4 707.0 1335.2 707.1 1333.9 707.4C1332.7 707.7 1331.3 708.4 1330.0 709.1C1328.7 709.8 1327.1 710.7 1326.1 711.6C1325.0 712.5 1324.0 713.6 1323.5 714.4C1323.1 715.2 1323.1 715.9 1323.2 716.4C1323.4 716.9 1324.0 717.2 1324.7 717.2C1325.3 717.2 1326.2 716.8 1326.9 716.4C1327.6 716.0 1328.6 715.0 1328.6 715.0C1328.6 715.0 1328.3 716.9 1327.7 717.8C1327.2 718.7 1326.3 719.7 1325.5 720.3C1324.7 721.0 1323.6 721.7 1322.7 721.7C1321.7 721.8 1320.6 721.5 1319.9 720.9C1319.1 720.3 1318.5 719.3 1318.2 718.4C1317.9 717.5 1317.9 716.6 1318.2 715.6C1318.5 714.5 1319.0 713.3 1319.9 712.2C1320.7 711.1 1321.8 709.9 1323.2 708.8C1324.7 707.7 1326.4 706.7 1328.3 705.7C1330.2 704.8 1332.5 703.8 1334.5 703.2C1336.5 702.5 1338.2 702.1 1340.1 701.8C1342.0 701.5 1343.9 701.0 1345.7 701.2Z" fill="url(#wg1)"/>
<circle cx="1387.4" cy="748.0" r="19.2" fill="none" stroke="#38b6f9" stroke-width="1.1"/>
<circle cx="1387.4" cy="748.0" r="17.5" fill="none" stroke="#3aa8f8" stroke-opacity=".55" stroke-width=".7"/>
<path d="M1382.0 743.0L1388.0 742.2L1393.6 745.1L1393.0 751.4L1386.7 755.1L1381.0 750.6ZM1382.0 732.0L1387.0 731.1L1392.8 731.7L1393.0 733.3L1389.1 734.9L1382.8 734.6L1381.7 733.3ZM1388.3 736.2L1393.3 734.9L1397.5 737.0L1398.3 743.8L1394.6 745.1L1388.6 742.0ZM1399.1 737.0L1401.7 738.3L1404.8 744.3L1405.4 750.1L1402.7 750.1L1400.4 744.3L1398.8 739.6ZM1398.5 754.8L1402.2 750.9L1405.6 750.9L1404.6 756.4L1400.9 760.6L1397.5 759.5ZM1386.2 757.2L1392.8 753.0L1397.0 755.3L1396.7 759.3L1391.2 762.7L1386.7 760.6ZM1373.1 743.0L1377.8 740.4L1381.0 742.7L1380.2 750.4L1376.8 753.2L1373.1 749.6ZM1372.0 740.6L1373.9 737.0L1379.9 733.0L1381.0 734.6L1377.3 739.3L1372.8 742.2ZM1371.0 752.2L1372.6 750.4L1376.2 753.8L1378.6 760.6L1377.3 761.9L1373.3 758.0ZM1378.9 761.9L1384.4 761.1L1389.6 763.5L1389.1 764.8L1383.3 764.8L1379.4 763.5Z" fill="url(#wg4)" stroke="url(#wg4)" stroke-width=".5" stroke-linejoin="round"/>
<text transform="translate(0 748.8) scale(1 1.05)" x="1429.5 1469 1507.5 1547" y="-3" font-family="'Liberation Sans','Noto Sans CJK SC',sans-serif" font-weight="bold" font-size="38" fill="#14254f" stroke="#14254f" stroke-width=".8">开云体育</text>
<text x="1430.7 1449.2 1466.8 1476.4 1492.4 1509.7 1526.3 1535.3 1550.4 1568.6" y="774" font-family="'DejaVu Sans','Liberation Sans',sans-serif" font-size="22.4" fill="#14254f" stroke="#14254f" stroke-width="1.1" stroke-linejoin="round">kaiyun.co<tspan textLength="17" lengthAdjust="spacingAndGlyphs">m</tspan></text>
</g>
</svg>
</body>
</html>
